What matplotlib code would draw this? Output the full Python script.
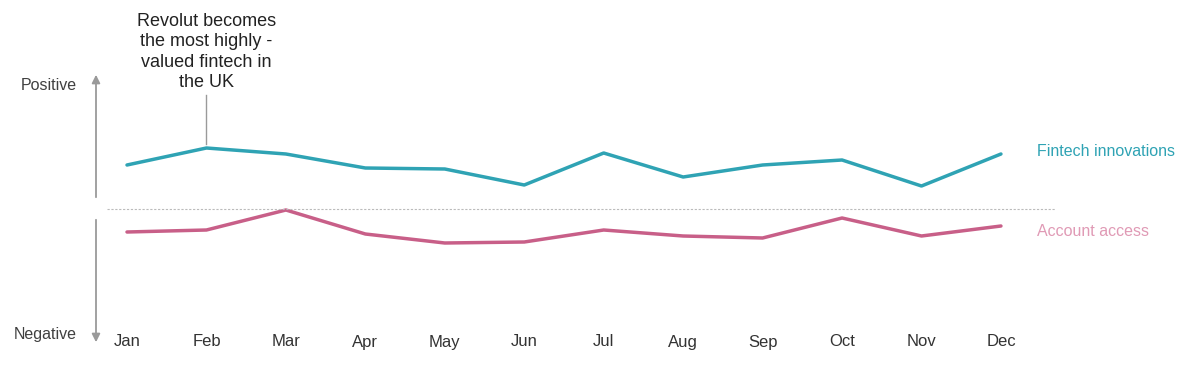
import matplotlib
matplotlib.use("Agg")

import matplotlib.pyplot as plt

plt.rcParams["font.family"] = ["Liberation Sans", "DejaVu Sans"]

months = ["Jan", "Feb", "Mar", "Apr", "May", "Jun", "Jul", "Aug", "Sep", "Oct", "Nov", "Dec"]
fintech = [44, 61, 55, 41, 40, 24, 56, 32, 44, 49, 23, 55]
account = [-23, -21, -1, -25, -34, -33, -21, -27, -29, -9, -27, -17]

TEAL = "#2fa3b4"
PINK = "#c85f88"
GREY = "#9a9a9a"

fig = plt.figure(figsize=(12, 3.9), dpi=100)
ax = fig.add_axes([0, 0, 1, 1])
step = 79.45
ax.set_xlim(-127 / step, (1200 - 127) / step)
ax.set_ylim(-181, 209)
ax.axis("off")

x = list(range(len(months)))
ax.plot(x, fintech, color=TEAL, lw=2.5, solid_capstyle="round")
ax.plot(x, account, color=PINK, lw=2.5, solid_capstyle="round")

# zero line
ax.plot([-20 / step, 928 / step], [0, 0], color="#bbbbbb", lw=0.8, ls=(0, (2, 1.5)))

# positive / negative arrows
ax_x = -31 / step
ax.annotate("", xy=(ax_x, 137), xytext=(ax_x, 9),
            arrowprops=dict(arrowstyle="-|>", color=GREY, lw=1.3, mutation_scale=12))
ax.annotate("", xy=(ax_x, -136), xytext=(ax_x, -8),
            arrowprops=dict(arrowstyle="-|>", color=GREY, lw=1.3, mutation_scale=12))
ax.text(-50 / step, 124, "Positive", ha="right", va="center", fontsize=11.5, color="#404040")
ax.text(-50 / step, -125, "Negative", ha="right", va="center", fontsize=11.5, color="#404040")

# month labels
for i, m in enumerate(months):
    ax.text(i, -133, m, ha="center", va="center", fontsize=12, color="#333333")

# series labels
ax.text(910 / step, 58, "Fintech innovations", ha="left", va="center", fontsize=11.5, color=TEAL)
ax.text(910 / step, -22, "Account access", ha="left", va="center", fontsize=11.5, color="#e09ab5")

# annotation
ax.plot([1, 1], [fintech[1] + 4, 114], color=GREY, lw=1)
ax.text(1, 157, "Revolut becomes\nthe most highly -\nvalued fintech in\nthe UK",
        ha="center", va="center", fontsize=13, color="#222222", linespacing=1.25)

fig.savefig("out.png", dpi=100)
